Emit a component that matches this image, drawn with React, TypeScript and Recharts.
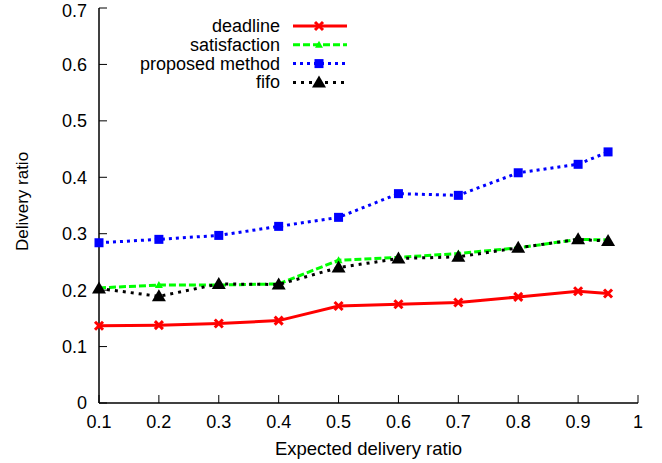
import React from "react";
import { LineChart, Line, XAxis, YAxis, Customized } from "recharts";

const xValues = [0.1, 0.2, 0.3, 0.4, 0.5, 0.6, 0.7, 0.8, 0.9, 0.95];
const deadline = [0.137, 0.138, 0.141, 0.146, 0.172, 0.175, 0.178, 0.188, 0.198, 0.194];
const satisfaction = [0.204, 0.209, 0.209, 0.211, 0.253, 0.258, 0.265, 0.275, 0.29, 0.289];
const proposed = [0.284, 0.29, 0.297, 0.313, 0.329, 0.371, 0.368, 0.408, 0.423, 0.445];
const fifo = [0.203, 0.189, 0.211, 0.21, 0.24, 0.256, 0.259, 0.275, 0.29, 0.287];

const xTicks = [0.1, 0.2, 0.3, 0.4, 0.5, 0.6, 0.7, 0.8, 0.9, 1];
const yTicks = [0, 0.1, 0.2, 0.3, 0.4, 0.5, 0.6, 0.7];

const data = xValues.map((x, i) => ({
  x,
  deadline: deadline[i],
  satisfaction: satisfaction[i],
  proposed: proposed[i],
  fifo: fifo[i],
}));

type Marker = "cross" | "smallTri" | "square" | "bigTri";

const series: Array<{ key: string; name: string; color: string; dash?: string; marker: Marker }> = [
  { key: "deadline", name: "deadline", color: "#ff0000", marker: "cross" },
  { key: "satisfaction", name: "satisfaction", color: "#00ff00", dash: "7 3", marker: "smallTri" },
  { key: "proposed", name: "proposed method", color: "#0000ff", dash: "3 4", marker: "square" },
  { key: "fifo", name: "fifo", color: "#000000", dash: "3 5", marker: "bigTri" },
];

const FONT = "'Liberation Sans', Arial, Helvetica, sans-serif";

function drawMarker(kind: Marker, color: string, cx: number, cy: number, key?: React.Key) {
  if (cx == null || cy == null) return <g key={key} />;
  switch (kind) {
    case "cross":
      return (
        <g key={key} stroke={color} strokeWidth={3}>
          <line x1={cx - 4} y1={cy - 4} x2={cx + 4} y2={cy + 4} />
          <line x1={cx - 4} y1={cy + 4} x2={cx + 4} y2={cy - 4} />
        </g>
      );
    case "smallTri":
      return <polygon key={key} points={`${cx},${cy - 4} ${cx - 4},${cy + 3} ${cx + 4},${cy + 3}`} fill={color} />;
    case "square":
      return <rect key={key} x={cx - 4.5} y={cy - 4.5} width={9} height={9} fill={color} />;
    case "bigTri":
      return <polygon key={key} points={`${cx},${cy - 7} ${cx - 7},${cy + 5} ${cx + 7},${cy + 5}`} fill={color} />;
  }
}

function LegendBox() {
  return (
    <g fontFamily={FONT} fontSize={18}>
      {series.map((s, i) => {
        const y = 26 + i * 18.8;
        return (
          <g key={s.key}>
            <text x={280} y={y + 6} textAnchor="end" fill="#000">
              {s.name}
            </text>
            <line x1={293} x2={347} y1={y} y2={y} stroke={s.color} strokeWidth={3} strokeDasharray={s.dash} />
            {drawMarker(s.marker, s.color, 319, y)}
          </g>
        );
      })}
    </g>
  );
}

const tickStyle = { fontSize: 18, fill: "#000", fontFamily: FONT };
const blank = () => "";

export default function App() {
  return (
    <div style={{ position: "absolute", left: 0, top: 0, background: "#fff" }}>
      <LineChart width={662} height={463} data={data} margin={{ top: 8, right: 24, left: 0, bottom: 0 }}>
        <XAxis
          xAxisId="bottom"
          dataKey="x"
          type="number"
          domain={[0.1, 1]}
          ticks={xTicks}
          height={60}
          tickSize={-8}
          tickMargin={20}
          tick={tickStyle}
          axisLine={{ stroke: "#000", strokeWidth: 1.5 }}
          tickLine={{ stroke: "#000" }}
          tickFormatter={(v: number) => String(v)}
          label={{
            content: ({ viewBox }: any) => (
              <text
                x={viewBox.x + viewBox.width / 2}
                y={viewBox.y + 52}
                textAnchor="middle"
                fontSize={18.5}
                fontFamily={FONT}
                fill="#000"
              >
                Expected delivery ratio
              </text>
            ),
          }}
        />
        <XAxis
          xAxisId="top"
          orientation="top"
          dataKey="x"
          type="number"
          domain={[0.1, 1]}
          ticks={xTicks}
          height={0}
          tickSize={-8}
          tickFormatter={blank}
          axisLine={{ stroke: "#000", strokeWidth: 1.5 }}
          tickLine={{ stroke: "#000" }}
        />
        <YAxis
          yAxisId="left"
          type="number"
          domain={[0, 0.7]}
          ticks={yTicks}
          width={99}
          tickSize={-8}
          tickMargin={20}
          tick={tickStyle}
          axisLine={{ stroke: "#000", strokeWidth: 1.5 }}
          tickLine={{ stroke: "#000" }}
          tickFormatter={(v: number) => String(v)}
          label={{
            content: ({ viewBox }: any) => {
              const x = viewBox.x + 28;
              const y = viewBox.y + viewBox.height / 2 - 4;
              return (
                <text
                  x={x}
                  y={y}
                  transform={`rotate(-90 ${x} ${y})`}
                  textAnchor="middle"
                  fontSize={17}
                  fontFamily={FONT}
                  fill="#000"
                >
                  Delivery ratio
                </text>
              );
            },
          }}
        />
        <YAxis
          yAxisId="right"
          orientation="right"
          type="number"
          domain={[0, 0.7]}
          ticks={yTicks}
          width={0}
          tickSize={-8}
          tickFormatter={blank}
          axisLine={{ stroke: "#000", strokeWidth: 1.5 }}
          tickLine={{ stroke: "#000" }}
        />
        {series.map((s) => (
          <Line
            key={s.key}
            xAxisId="bottom"
            yAxisId="left"
            dataKey={s.key}
            name={s.name}
            stroke={s.color}
            strokeWidth={3}
            strokeDasharray={s.dash}
            type="linear"
            isAnimationActive={false}
            dot={(p: any) => drawMarker(s.marker, s.color, p.cx, p.cy, `${s.key}-${p.index}`)}
            activeDot={false}
          />
        ))}
        <Customized component={LegendBox} />
      </LineChart>
    </div>
  );
}
